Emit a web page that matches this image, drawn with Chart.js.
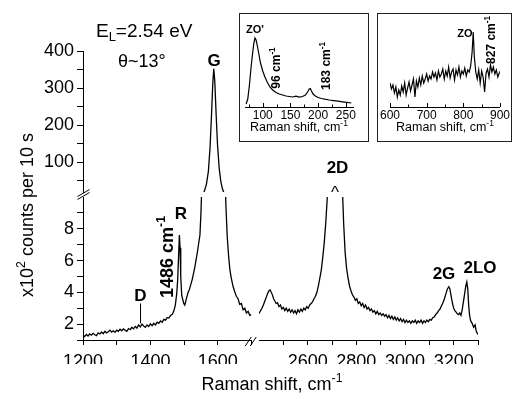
<!DOCTYPE html>
<html>
<head>
<meta charset="utf-8">
<script src="https://cdn.jsdelivr.net/npm/chart.js@4.4.1/dist/chart.umd.min.js"></script>
<style>
  html, body { margin: 0; padding: 0; background: #fff; }
  #wrap { position: relative; width: 516px; height: 395px; overflow: hidden; }
  #main { position: absolute; left: 0; top: 0; }
  .inset { position: absolute; background: #fff; border: 1px solid #222; box-sizing: border-box; }
  .inset canvas { position: absolute; left: 0; top: 0; }
</style>
</head>
<body>
<div id="wrap">
  <canvas id="main" width="516" height="395"></canvas>
  <div class="inset" style="left:239px; top:13px; width:130px; height:129px;"><canvas id="inset1" width="128" height="127"></canvas></div>
  <div class="inset" style="left:377px; top:13px; width:135px; height:129px;"><canvas id="inset2" width="133" height="127"></canvas></div>
</div>
<script>
// ── data (x10^2 counts per 10 s) ────────────────────────────────────────────

// 1200–1700 cm-1 window: D, R and G
const shiftLow = [
  1200, 1205, 1210, 1215, 1220, 1225, 1230, 1235, 1240, 1245, 1250, 1255, 1260, 1265, 1270, 1275,
  1280, 1285, 1290, 1295, 1300, 1305, 1310, 1315, 1320, 1325, 1330, 1335, 1340, 1345, 1350, 1355,
  1360, 1365, 1370, 1375, 1380, 1385, 1390, 1395, 1400, 1405, 1410, 1415, 1420, 1425, 1430, 1435,
  1440, 1445, 1450, 1455, 1460, 1465, 1470, 1474, 1478, 1481, 1484, 1486, 1488, 1490, 1493, 1496,
  1499, 1502, 1505, 1508, 1512, 1516, 1520, 1524, 1528, 1532, 1536, 1540, 1544, 1547, 1550, 1553,
  1556, 1560, 1566, 1572, 1577, 1581, 1585, 1588, 1591, 1595, 1599, 1604, 1609, 1614, 1618, 1621,
  1624, 1628, 1632, 1636, 1640, 1645, 1650, 1655, 1660, 1665, 1670, 1675, 1680, 1685, 1690, 1695,
  1700,
];
const countsLow = [
  1.30, 1.22, 1.35, 1.25, 1.38, 1.30, 1.42, 1.33, 1.28, 1.45, 1.38, 1.50, 1.40, 1.55, 1.45, 1.52,
  1.62, 1.50, 1.58, 1.48, 1.62, 1.55, 1.68, 1.58, 1.70, 1.62, 1.55, 1.72, 1.65, 1.80, 1.70, 1.85,
  1.75, 1.95, 1.82, 2.00, 1.88, 1.80, 1.95, 1.85, 2.02, 1.90, 2.05, 1.95, 2.12, 2.05, 2.20, 2.12,
  2.30, 2.25, 2.42, 2.38, 2.55, 2.62, 2.85, 3.20, 3.90, 4.80, 6.50, 7.60, 6.80, 5.00, 3.80, 3.55,
  3.30, 3.20, 3.45, 3.70, 4.00, 4.20, 4.50, 4.80, 5.20, 5.60, 6.10, 6.60, 7.20, 7.60, 9.00, 11.0,
  15.0, 22.0, 40.0, 75.0, 140, 220, 310, 352, 320, 230, 150, 85, 48, 28, 18, 12,
  9.5, 7.5, 6.3, 5.4, 4.9, 4.4, 4.05, 3.75, 3.6, 3.25, 3.3, 2.9, 3.0, 2.7, 2.8, 2.55,
  2.6,
];

// 2400–3300 cm-1 window: D+D'', 2D, 2G, 2LO
const shiftHigh = [
  2398, 2405, 2412, 2418, 2424, 2430, 2436, 2441, 2446, 2450, 2455, 2460, 2465, 2470, 2476, 2482,
  2488, 2494, 2500, 2506, 2512, 2518, 2524, 2530, 2536, 2542, 2548, 2554, 2560, 2566, 2572, 2578,
  2584, 2590, 2596, 2602, 2608, 2614, 2620, 2626, 2632, 2638, 2644, 2650, 2656, 2662, 2668, 2674,
  2680, 2686, 2692, 2700, 2710, 2720, 2730, 2738, 2744, 2748, 2754, 2760, 2766, 2772, 2778, 2784,
  2790, 2796, 2802, 2808, 2814, 2820, 2826, 2832, 2838, 2844, 2850, 2856, 2862, 2868, 2874, 2880,
  2886, 2892, 2898, 2904, 2910, 2916, 2922, 2928, 2934, 2940, 2946, 2952, 2958, 2964, 2970, 2976,
  2982, 2988, 2994, 3000, 3006, 3012, 3018, 3024, 3030, 3036, 3042, 3048, 3054, 3060, 3066, 3072,
  3078, 3084, 3090, 3096, 3102, 3108, 3114, 3120, 3126, 3132, 3138, 3144, 3150, 3156, 3162, 3168,
  3174, 3180, 3184, 3188, 3192, 3196, 3200, 3205, 3210, 3215, 3220, 3225, 3230, 3235, 3240, 3245,
  3250, 3254, 3258, 3262, 3266, 3270, 3276, 3282, 3288, 3292, 3296, 3300,
];
const countsHigh = [
  2.65, 2.80, 3.00, 3.20, 3.45, 3.70, 3.95, 4.10, 4.15, 4.00, 3.85, 3.60, 3.45, 3.30, 3.35, 3.10,
  3.20, 2.95, 3.05, 2.85, 3.00, 2.80, 2.95, 2.75, 2.90, 2.70, 2.85, 2.65, 2.90, 2.75, 2.95, 2.80,
  3.00, 2.90, 3.10, 3.00, 3.20, 3.30, 3.40, 3.60, 3.75, 4.00, 4.40, 4.90, 5.40, 6.20, 7.10, 8.30,
  9.80, 13.0, 17.0, 22.0, 25.0, 23.0, 18.0, 13.0, 10.0, 8.3, 6.5, 5.5, 4.9, 4.4, 4.1, 3.85,
  3.70, 3.50, 3.60, 3.30, 3.40, 3.15, 3.30, 3.05, 3.20, 2.95, 3.05, 2.85, 2.95, 2.75, 2.85, 2.65,
  2.80, 2.60, 2.70, 2.55, 2.65, 2.50, 2.60, 2.40, 2.55, 2.35, 2.50, 2.30, 2.45, 2.25, 2.40, 2.20,
  2.35, 2.15, 2.30, 2.10, 2.25, 2.10, 2.20, 2.05, 2.20, 2.10, 2.25, 2.05, 2.20, 2.10, 2.25, 2.05,
  2.20, 2.10, 2.25, 2.15, 2.30, 2.25, 2.40, 2.45, 2.60, 2.70, 2.85, 2.95, 3.15, 3.35, 3.60, 3.90,
  4.20, 4.35, 4.25, 3.90, 3.55, 3.25, 3.00, 2.85, 2.75, 2.65, 2.60, 2.70, 2.55, 2.90, 3.40, 3.90,
  4.40, 4.65, 4.20, 3.10, 2.50, 2.20, 2.05, 1.80, 1.95, 1.60, 1.45, 1.35,
];

// inset 1: ZO' and 183 cm-1 band (arb. units)
const zoShiftLow = [
  70, 73, 76, 79, 82, 84, 86, 88, 90, 93, 96, 100, 104, 108, 113, 118, 124, 130, 136, 142, 148,
  154, 160, 166, 172, 177, 181, 184, 186, 188, 191, 195, 200, 206, 212, 220, 228, 236, 244, 252, 260,
];
const zoCountsLow = [
  3, 8, 22, 40, 55, 64, 69, 67, 62, 53, 44, 36, 30, 25, 20, 17, 14.5, 13, 12, 11, 10.5,
  10, 10.8, 9.9, 10.5, 12, 15, 18, 18.5, 16, 13, 11, 9.5, 8.5, 7.8, 7, 6.4, 5.8, 5.2, 4.6, 4,
];

// inset 2: ZO band (arb. units)
const zoShiftHigh = [
  600, 604, 608, 612, 616, 620, 624, 628, 632, 636, 640, 644, 648, 652, 656, 660, 664, 668, 672,
  676, 680, 684, 688, 692, 696, 700, 704, 708, 712, 716, 720, 724, 728, 732, 736, 740, 744, 748,
  752, 756, 760, 764, 768, 772, 776, 780, 784, 788, 792, 796, 800, 804, 808, 812, 816, 820, 824,
  827, 830, 834, 838, 842, 846, 850, 854, 858, 862, 866, 870, 874, 878, 882, 886, 890, 894, 898, 900,
];
const zoCountsHigh = [
  24, 18, 22, 14, 20, 10, 17, 12, 21, 15, 24, 12, 19, 25, 16, 22, 28, 10, 26,
  20, 29, 22, 31, 24, 28, 33, 26, 31, 28, 35, 30, 34, 27, 36, 30, 33, 38, 28,
  36, 31, 40, 29, 35, 38, 27, 37, 32, 40, 30, 36, 33, 39, 31, 37, 35, 41, 55,
  75, 50, 35, 28, 37, 24, 36, 30, 15, 34, 38, 30, 42, 35, 40, 33, 37, 30, 34, 36,
];

// tick labels
const xLabelsLow = [1200, 1400, 1600];
const xLabelsHigh = [2600, 2800, 3000, 3200];
const yLabelsUp = [100, 200, 300, 400];
const yLabelsLow = [2, 4, 6, 8];
const insetLabelsLow = [100, 150, 200, 250];
const insetLabelsHigh = [600, 700, 800, 900];

// D marker: shift and vertical extent of the short line
const dMarker = { shift: 1369, from: 2.05, to: 3.3 };

// ── helpers ─────────────────────────────────────────────────────────────────

const FAMILY = '"Liberation Sans", Arial, sans-serif';
Chart.defaults.font.family = FAMILY;
Chart.defaults.color = '#000';

function pts(xs, ys) {
  return xs.map((x, i) => ({ x, y: ys[i] }));
}

// draws text made of parts ({t, sup|sub}), optionally rotated
function drawParts(ctx, parts, x, y, size, bold, align, angle) {
  const font = (s) => (bold ? 'bold ' : '') + s + 'px ' + FAMILY;
  ctx.save();
  ctx.translate(x, y);
  if (angle) ctx.rotate(angle);
  ctx.textBaseline = 'alphabetic';
  ctx.textAlign = 'left';
  let total = 0;
  const sized = parts.map((p) => {
    const s = p.sup || p.sub ? size * 0.68 : size;
    ctx.font = font(s);
    const w = ctx.measureText(p.t).width;
    total += w;
    return { ...p, s, w };
  });
  let cx = align === 'center' ? -total / 2 : align === 'right' ? -total : 0;
  sized.forEach((p) => {
    ctx.font = font(p.s);
    const dy = p.sup ? -size * 0.42 : p.sub ? size * 0.22 : 0;
    ctx.fillText(p.t, cx, dy);
    cx += p.w;
  });
  ctx.restore();
}

function seg(ctx, x1, y1, x2, y2) {
  ctx.beginPath();
  ctx.moveTo(x1, y1);
  ctx.lineTo(x2, y2);
  ctx.stroke();
}

// clip every dataset to the box of its own x/y axes (broken axes)
const clipToAxes = {
  id: 'clipToAxes',
  beforeDatasetDraw(chart, args) {
    const { xScale, yScale } = args.meta;
    const ctx = chart.ctx;
    ctx.save();
    ctx.beginPath();
    ctx.rect(xScale.left, yScale.top, xScale.right - xScale.left, yScale.bottom - yScale.top);
    ctx.clip();
  },
  afterDatasetDraw(chart) {
    chart.ctx.restore();
  },
};

const grid = (len) => ({ drawOnChartArea: false, drawTicks: true, tickLength: len, tickColor: '#000', tickWidth: 1 });
const border = { display: true, color: '#000', width: 1 };
const gapAxis = (pos, stack, w, weight) => ({
  type: 'linear', position: pos, stack, stackWeight: w, weight,
  ticks: { display: false }, grid: { display: false }, border: { display: false },
  afterFit: (s) => { if (pos === 'left') s.width = 40; else s.height = 24; },
});

// ── main chart decorations ─────────────────────────────────────────────────

const mainDecor = {
  id: 'mainDecor',
  afterDraw(chart) {
    const { ctx, chartArea } = chart;
    const { xA, xGap, yGap, yLow } = chart.scales;
    ctx.save();
    ctx.strokeStyle = '#000';
    ctx.fillStyle = '#000';
    ctx.lineWidth = 1;

    // D marker line
    const dx = Math.round(xA.getPixelForValue(dMarker.shift)) + 0.5;
    seg(ctx, dx, yLow.getPixelForValue(dMarker.from), dx, yLow.getPixelForValue(dMarker.to));

    // axis breaks
    const ax = chartArea.left + 0.5;
    const cy = (yGap.top + yGap.bottom) / 2;
    seg(ctx, ax - 6, cy + 5, ax + 6, cy - 2);
    seg(ctx, ax - 6, cy + 2, ax + 6, cy - 5);
    const bx = (xGap.left + xGap.right) / 2 - 2;
    const by = chartArea.bottom;
    seg(ctx, bx - 8, by + 6, bx - 2, by - 3);
    seg(ctx, bx - 3, by + 6, bx + 3, by - 3);

    // peak labels
    drawParts(ctx, [{ t: 'G' }], 214, 66, 17, true, 'center');
    drawParts(ctx, [{ t: 'R' }], 181, 219, 17, true, 'center');
    drawParts(ctx, [{ t: '1486 cm' }, { t: '-1', sup: true }], 173, 257, 18, true, 'center', -Math.PI / 2);
    drawParts(ctx, [{ t: 'D' }], 140.5, 301, 17, true, 'center');
    drawParts(ctx, [{ t: '2D' }], 337.5, 173, 17, true, 'center');
    drawParts(ctx, [{ t: '^' }], 335, 198, 17, false, 'center');
    drawParts(ctx, [{ t: '2G' }], 444, 279, 17, true, 'center');
    drawParts(ctx, [{ t: '2LO' }], 480, 273, 17, true, 'center');

    // conditions
    drawParts(ctx, [{ t: 'E' }, { t: 'L', sub: true }, { t: '=2.54 eV' }], 96, 37, 19, false, 'left');
    drawParts(ctx, [{ t: 'θ~13°' }], 118, 67, 18, false, 'left');

    // axis titles
    drawParts(ctx, [{ t: 'x10' }, { t: '2', sup: true }, { t: ' counts per 10 s' }], 33, 215, 18, false, 'center', -Math.PI / 2);
    drawParts(ctx, [{ t: 'Raman shift, cm' }, { t: '-1', sup: true }], 272, 390, 18, false, 'center');
    ctx.restore();
  },
};

// ── main chart ──────────────────────────────────────────────────────────────

const xTicks = (labels) => ({
  stepSize: 100, includeBounds: false, autoSkip: false, maxRotation: 0, padding: 6,
  font: { size: 18 }, callback: (v) => (labels.includes(v) ? String(v) : ''),
});
const yTicks = (step, labels) => ({
  stepSize: step, includeBounds: false, autoSkip: false, padding: 3,
  font: { size: 18 }, callback: (v) => (labels.includes(v) ? String(v) : ''),
});

new Chart(document.getElementById('main'), {
  type: 'line',
  data: {
    datasets: [
      { data: pts(shiftLow, countsLow), xAxisID: 'xA', yAxisID: 'yLow' },
      { data: pts(shiftLow, countsLow), xAxisID: 'xA', yAxisID: 'yUp' },
      { data: pts(shiftHigh, countsHigh), xAxisID: 'xB', yAxisID: 'yLow' },
    ],
  },
  options: {
    responsive: false,
    animation: false,
    devicePixelRatio: 1,
    layout: { padding: { left: 43, right: 38, top: 51, bottom: 31 } },
    elements: {
      line: { borderColor: '#000', borderWidth: 1.3, tension: 0 },
      point: { radius: 0 },
    },
    plugins: { legend: { display: false }, tooltip: { enabled: false } },
    scales: {
      xA: {
        type: 'linear', position: 'bottom', stack: 'x', stackWeight: 168.5, weight: 1,
        min: 1200, max: 1700,
        ticks: xTicks(xLabelsLow),
        grid: grid(5), border,
        afterFit: (s) => { s.height = 24; },
      },
      xGap: gapAxis('bottom', 'x', 7.5, 2),
      xB: {
        type: 'linear', position: 'bottom', stack: 'x', stackWeight: 219, weight: 3,
        min: 2400, max: 3300,
        afterBuildTicks: (s) => { s.ticks = s.ticks.filter((t) => t.value > 2400); },
        ticks: xTicks(xLabelsHigh),
        grid: grid(5), border,
        afterFit: (s) => { s.height = 24; },
      },
      yUp: {
        type: 'linear', position: 'left', stack: 'y', stackWeight: 141, weight: 3,
        min: 20, max: 400,
        ticks: yTicks(50, yLabelsUp),
        grid: grid(6), border,
        afterFit: (s) => { s.width = 40; },
      },
      yGap: gapAxis('left', 'y', 5, 2),
      yLow: {
        type: 'linear', position: 'left', stack: 'y', stackWeight: 143, weight: 1,
        min: 1, max: 10,
        afterBuildTicks: (s) => { s.ticks = s.ticks.filter((t) => t.value < 10); },
        ticks: yTicks(1, yLabelsLow),
        grid: grid(6), border,
        afterFit: (s) => { s.width = 40; },
      },
    },
  },
  plugins: [clipToAxes, mainDecor],
});

// ── insets ──────────────────────────────────────────────────────────────────

function insetDecor(labels) {
  return {
    id: 'insetDecor',
    afterDraw(chart) {
      const { ctx } = chart;
      const x = chart.scales.x;
      ctx.save();
      ctx.strokeStyle = '#000';
      ctx.fillStyle = '#000';
      ctx.lineWidth = 1;
      // inward ticks
      x.ticks.forEach((t) => {
        const px = Math.round(x.getPixelForValue(t.value)) + 0.5;
        const len = t.label ? 4 : 2.5;
        seg(ctx, px, x.top, px, x.top - len);
      });
      labels(ctx, chart);
      drawParts(ctx, [{ t: 'Raman shift, cm' }, { t: '-1', sup: true }],
        (chart.chartArea.left + chart.chartArea.right) / 2, 117, 12.5, false, 'center');
      ctx.restore();
    },
  };
}

function insetChart(id, xs, ys, min, max, step, shown, pad, labels) {
  new Chart(document.getElementById(id), {
    type: 'line',
    data: { datasets: [{ data: pts(xs, ys) }] },
    options: {
      responsive: false,
      animation: false,
      devicePixelRatio: 1,
      layout: { padding: pad },
      elements: {
        line: { borderColor: '#000', borderWidth: 1.2, tension: 0 },
        point: { radius: 0 },
      },
      plugins: { legend: { display: false }, tooltip: { enabled: false } },
      scales: {
        x: {
          type: 'linear', min, max,
          ticks: {
            stepSize: step, includeBounds: false, autoSkip: false, maxRotation: 0, padding: 1,
            font: { size: 12 }, callback: (v) => (shown.includes(v) ? String(v) : ''),
          },
          grid: { display: true, drawOnChartArea: false, drawTicks: false },
          border,
          afterFit: (s) => { s.height = 20; },
        },
        y: { type: 'linear', display: false, min: 0, max: 85 },
      },
    },
    plugins: [insetDecor(labels)],
  });
}

insetChart('inset1', zoShiftLow, zoCountsLow, 68, 263, 25, insetLabelsLow,
  { left: 5, right: 15, top: 8, bottom: 14 },
  (ctx) => {
    drawParts(ctx, [{ t: "ZO'" }], 15, 19, 11, true, 'center');
    drawParts(ctx, [{ t: '96 cm' }, { t: '-1', sup: true }], 40, 54, 12, true, 'center', -Math.PI / 2);
    drawParts(ctx, [{ t: '183 cm' }, { t: '-1', sup: true }], 90, 52, 12, true, 'center', -Math.PI / 2);
  });

insetChart('inset2', zoShiftHigh, zoCountsHigh, 600, 900, 50, insetLabelsHigh,
  { left: 12, right: 9, top: 8, bottom: 14 },
  (ctx) => {
    drawParts(ctx, [{ t: 'ZO' }], 87, 23, 11, true, 'center');
    drawParts(ctx, [{ t: '827 cm' }, { t: '-1', sup: true }], 117, 26, 12, true, 'center', -Math.PI / 2);
  });
</script>
</body>
</html>
